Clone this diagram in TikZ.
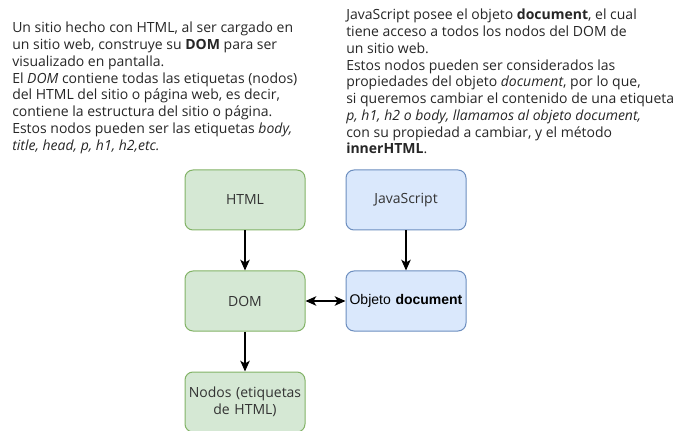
\documentclass[tikz,border=0pt]{standalone}
\usepackage{fontspec}
\setmainfont{Open Sans}
\newfontfamily\arialfont{Liberation Sans}
\usetikzlibrary{positioning,arrows.meta}

\begin{document}
\begin{tikzpicture}[
        x=0.75pt, y=-0.75pt,
        node distance=30pt and 30pt,
    ]

    \tikzstyle{box} = [rectangle, rounded corners=6pt, minimum width=90pt, minimum height=45pt,
                       text centered, text width=86pt, inner sep=1pt, line width=0.75pt,
                       text=black!80, font=\fontsize{10.5}{12.5}\selectfont];
    \tikzstyle{note} = [anchor=north west, align=left, inner sep=0pt, text=black!85,
                        font=\fontsize{10.5}{12.55}\selectfont];
    \tikzstyle{arrow} = [line width=1.5pt, -{Stealth[length=8pt, width=7pt, inset=2pt]}];

    \definecolor{htmlgreen}{HTML}{D5E8D4}
    \definecolor{htmlgreenline}{HTML}{82B366}
    \definecolor{jsblue}{HTML}{DAE8FC}
    \definecolor{jsblueline}{HTML}{6C8EBF}

    \useasboundingbox (0,0) rectangle (686,431);

    % Notes
    \node[note] (domnote) at (12,22) {Un sitio hecho con HTML, al ser cargado en\\
        un sitio web, construye su \textbf{DOM} para ser\\
        visualizado en pantalla.\\
        El \textit{DOM} contiene todas las etiquetas (nodos)\\
        del HTML del sitio o página web, es decir,\\
        contiene la estructura del sitio o página.\\
        Estos nodos pueden ser las etiquetas \textit{body,}\\
        \textit{title, head, p, h1, h2,etc.}};
    \node[note] (jsnote) at (346,9) {JavaScript posee el objeto \textbf{document}, el cual\\
        tiene acceso a todos los nodos del DOM de\\
        un sitio web.\\
        Estos nodos pueden ser considerados las\\
        propiedades del objeto \textit{document}, por lo que,\\
        si queremos cambiar el contenido de una etiqueta\\
        \textit{p, h1, h2 o body, llamamos al objeto document,}\\
        con su propiedad a cambiar, y el método\\
        \textbf{innerHTML}.};

    % Nodes
    \node[box, fill=htmlgreen, draw=htmlgreenline] (html) at (245,200) {HTML};
    \node[box, fill=htmlgreen, draw=htmlgreenline, below=of html] (dom) {DOM};
    \node[box, fill=htmlgreen, draw=htmlgreenline, below=of dom] (nodos) {Nodos (etiquetas de HTML)};
    \node[box, fill=jsblue, draw=jsblueline, right=of html] (js) {JavaScript};
    \node[box, fill=jsblue, draw=jsblueline, right=of dom, font=\arialfont\fontsize{10.5}{12.5}\selectfont,
          text=black] (document) {Objeto \textbf{document}};

    % Arrows
    \draw[arrow] (html) -- (dom);
    \draw[arrow] (dom) -- (nodos);
    \draw[arrow] (js) -- (document);
    \draw[arrow, {Stealth[length=8pt, width=7pt, inset=2pt]}-{Stealth[length=8pt, width=7pt, inset=2pt]}] (dom) -- (document);

\end{tikzpicture}
\end{document}
